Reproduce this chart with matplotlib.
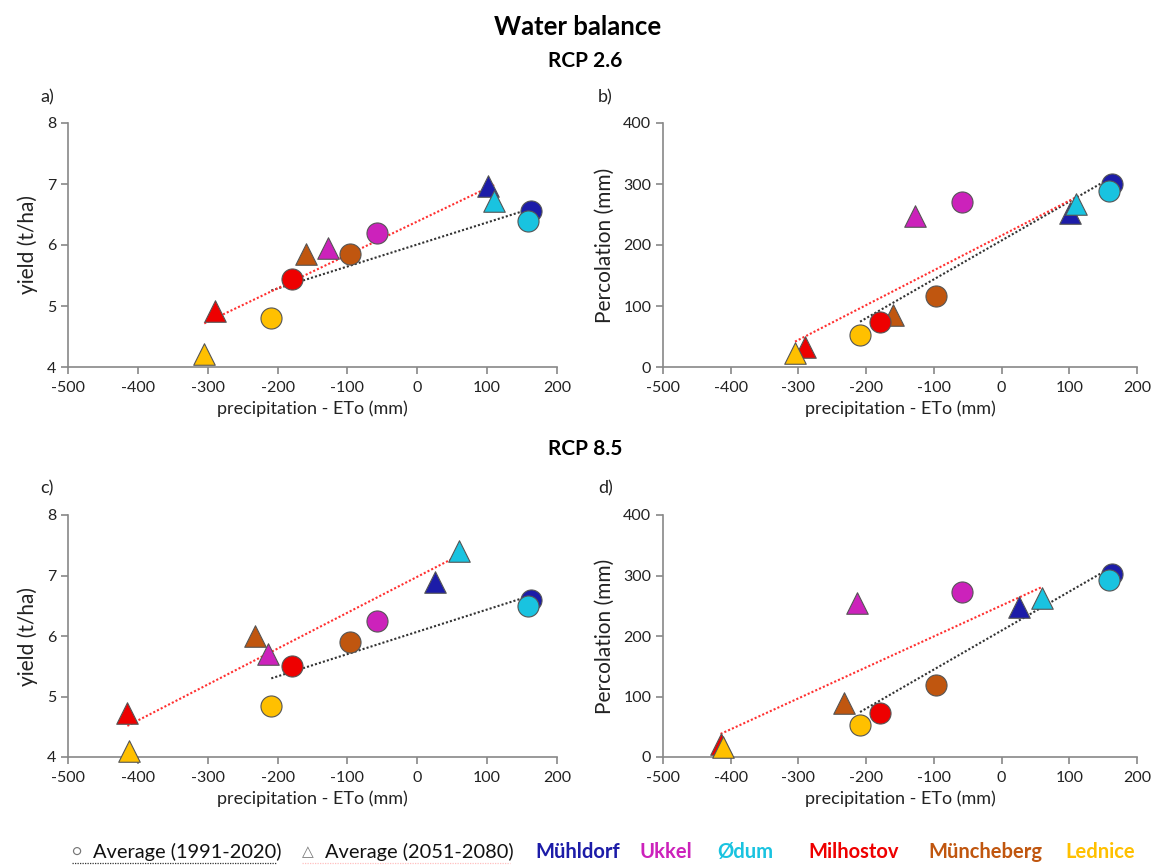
import numpy as np
import matplotlib
matplotlib.use("Agg")
import matplotlib.pyplot as plt
from matplotlib.lines import Line2D

plt.rcParams['font.family'] = ['Lato', 'DejaVu Sans']
plt.rcParams['axes.unicode_minus'] = False

stations = ["Mühldorf", "Ukkel", "Ødum", "Milhostov", "Müncheberg", "Lednice"]
colors = ["#1C1CA8", "#CC22BB", "#19C3E0", "#EE0000", "#C0560F", "#FFC000"]

# Historical (1991-2020)
hist_x = [163, -58, 159, -180, -97, -209]
hist_yield_26 = [6.55, 6.2, 6.4, 5.45, 5.85, 4.8]
hist_perc_26 = [300, 271, 289, 73, 117, 53]
hist_yield_85 = [6.6, 6.25, 6.5, 5.5, 5.9, 4.85]
hist_perc_85 = [302, 273, 292, 72, 119, 53]

# Future (2051-2080)
fut_x_26 = [101, -128, 110, -290, -160, -305]
fut_yield_26 = [6.97, 5.95, 6.72, 4.92, 5.85, 4.22]
fut_perc_26 = [252, 248, 268, 33, 86, 23]

fut_x_85 = [25, -213, 60, -415, -233, -412]
fut_yield_85 = [6.9, 5.7, 7.4, 4.72, 6.0, 4.1]
fut_perc_85 = [248, 255, 263, 22, 90, 17]

W, H = 1157, 866
fig = plt.figure(figsize=(W / 100, H / 100), dpi=100)


def ax_rect(l, r, top, bot):
    return [l / W, 1 - bot / H, (r - l) / W, (bot - top) / H]


gray = "#888888"
panels = [
    (ax_rect(68, 557, 123, 367), hist_x, hist_yield_26, fut_x_26, fut_yield_26, (4, 8), [4, 5, 6, 7, 8], "yield (t/ha)", "a)", (40, 97)),
    (ax_rect(663, 1137, 123, 367), hist_x, hist_perc_26, fut_x_26, fut_perc_26, (0, 400), [0, 100, 200, 300, 400], "Percolation (mm)", "b)", (598, 97)),
    (ax_rect(68, 557, 515, 757), hist_x, hist_yield_85, fut_x_85, fut_yield_85, (4, 8), [4, 5, 6, 7, 8], "yield (t/ha)", "c)", (40, 488)),
    (ax_rect(663, 1137, 515, 757), hist_x, hist_perc_85, fut_x_85, fut_perc_85, (0, 400), [0, 100, 200, 300, 400], "Percolation (mm)", "d)", (598, 488)),
]

for rect, hx, hy, fx, fy, ylim, yticks, ylabel, letter, lpos in panels:
    ax = fig.add_axes(rect)
    ax.set_xlim(-500, 200)
    ax.set_ylim(*ylim)
    ax.set_xticks(range(-500, 201, 100))
    ax.set_yticks(yticks)
    for s in ["top", "right"]:
        ax.spines[s].set_visible(False)
    for s in ["left", "bottom"]:
        ax.spines[s].set_color(gray)
        ax.spines[s].set_linewidth(1.2)
    ax.tick_params(axis="both", colors=gray, labelcolor="#222222", labelsize=11.5, length=5, width=1.2)
    ax.tick_params(axis="x", pad=5)
    ax.set_xlabel("precipitation - ETo (mm)", fontsize=13, color="#222222", labelpad=4)
    ax.set_ylabel(ylabel, fontsize=15, color="#222222", labelpad=6)
    ax.patch.set_alpha(0)

    # trendlines
    hxa, hya = np.array(hx), np.array(hy)
    fxa, fya = np.array(fx), np.array(fy)
    ph = np.polyfit(hxa, hya, 1)
    pf = np.polyfit(fxa, fya, 1)
    xs = np.array([hxa.min(), hxa.max()])
    ax.plot(xs, np.polyval(ph, xs), color="#333333", ls=(0, (1, 1)), lw=1.5, zorder=2)
    xs = np.array([fxa.min(), fxa.max()])
    ax.plot(xs, np.polyval(pf, xs), color="#FF3030", ls=(0, (1, 1)), lw=1.5, zorder=2)

    for i in range(len(stations)):
        ax.scatter(fx[i], fy[i], marker="^", s=240, color=colors[i], edgecolor="#555555", linewidth=0.8, zorder=3, clip_on=False)
    for i in range(len(stations)):
        ax.scatter(hx[i], hy[i], marker="o", s=230, color=colors[i], edgecolor="#555555", linewidth=0.8, zorder=4, clip_on=False)

    fig.text(lpos[0] / W, 1 - lpos[1] / H, letter, fontsize=13, color="#222222", ha="left", va="center")

fig.text(578 / W, 1 - 27 / H, "Water balance", fontsize=18.5, fontweight="bold", ha="center", va="center")
fig.text(585 / W, 1 - 61 / H, "RCP 2.6", fontsize=15, fontweight="bold", ha="center", va="center")
fig.text(585 / W, 1 - 449 / H, "RCP 8.5", fontsize=15, fontweight="bold", ha="center", va="center")

# bottom legend
ly = 1 - 852 / H
fig.text(71 / W, ly, "○", fontsize=11, color="#777777", ha="left", va="center")
fig.text(93 / W, ly, "Average (1991-2020)", fontsize=14.4, color="#111111", ha="left", va="center")
fig.text(302 / W, ly, "△", fontsize=11, color="#777777", ha="left", va="center")
fig.text(325 / W, ly, "Average (2051-2080)", fontsize=14.4, color="#111111", ha="left", va="center")
fig.add_artist(Line2D([72 / W, 277 / W], [1 - 863 / H] * 2, color="#333333", ls=(0, (1, 1)), lw=0.9))
fig.add_artist(Line2D([302 / W, 510 / W], [1 - 863 / H] * 2, color="#FF8080", ls=(0, (1, 1)), lw=0.9, alpha=0.5))

name_cx = [578, 666, 745, 854, 985, 1100]
for nx, name, c in zip(name_cx, stations, colors):
    fig.text(nx / W, ly, name, fontsize=14.5, fontweight="bold", color=c, ha="center", va="center")

fig.savefig("out.png", dpi=100)
